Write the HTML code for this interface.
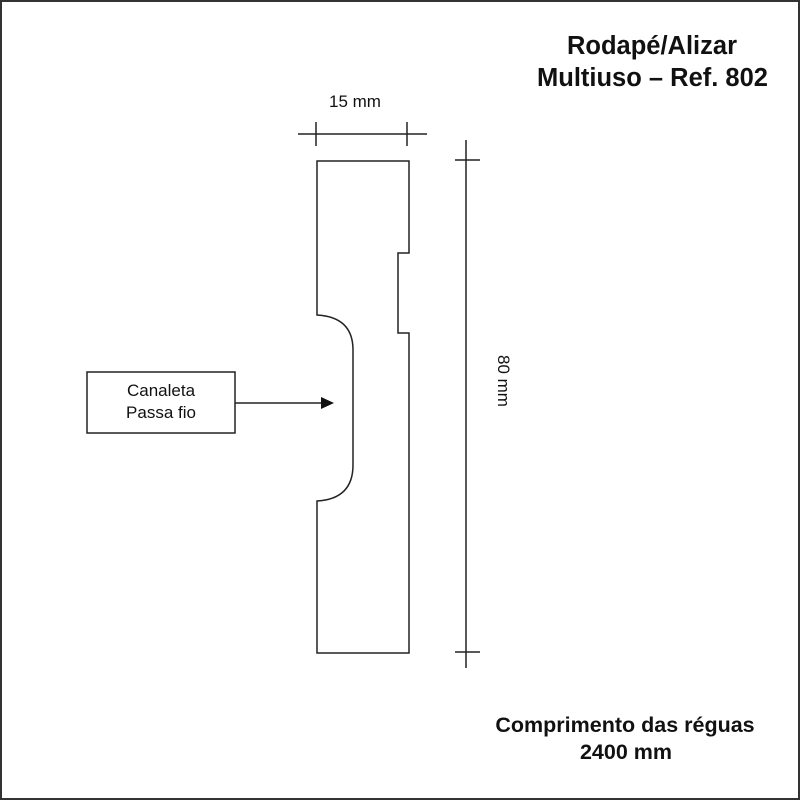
<!DOCTYPE html>
<html><head><meta charset="utf-8"><style>
html,body{margin:0;padding:0;background:#fff}
body{width:800px;height:800px;position:relative;overflow:hidden}
.frame{position:absolute;left:0;top:0;width:796px;height:796px;border:2px solid #333}
.t{position:absolute;font-family:"Liberation Sans",sans-serif;color:#111;white-space:nowrap}
.b{font-weight:bold}
</style></head><body>
<div class="frame"></div>
<svg width="800" height="800" style="position:absolute;left:0;top:0">
<g fill="none" stroke="#222" stroke-width="1.5">
<path d="M317 161 H409 V253 H398 V333 H409 V653 H317 V501 Q353 499 353 465 V350 Q353 317 317 315 Z"/>
<line x1="298" y1="134" x2="427" y2="134"/>
<line x1="316" y1="122" x2="316" y2="146"/>
<line x1="407" y1="122" x2="407" y2="146"/>
<line x1="466" y1="140" x2="466" y2="668"/>
<line x1="455" y1="160" x2="480" y2="160"/>
<line x1="455" y1="652" x2="480" y2="652"/>
<rect x="87" y="372" width="148" height="61"/>
<line x1="235" y1="403" x2="322" y2="403"/>
</g>
<polygon points="321,397 334,403 321,409" fill="#111"/>
</svg>
<div class="t b" style="left:552px;top:32px;width:200px;text-align:center;font-size:25.5px">Rodapé/Alizar</div>
<div class="t b" style="left:520px;top:64px;width:265px;text-align:center;font-size:25.5px">Multiuso – Ref. 802</div>
<div class="t" style="left:300px;top:92px;width:110px;text-align:center;font-size:17px">15 mm</div>
<div class="t" style="left:87px;top:380px;width:148px;text-align:center;font-size:17px;line-height:22px">Canaleta<br>Passa fio</div>
<div class="t" style="left:478px;top:370px;width:50px;text-align:center;font-size:17px;transform:rotate(90deg)">80 mm</div>
<div class="t b" style="left:470px;top:713px;width:310px;text-align:center;font-size:21.5px">Comprimento das réguas</div>
<div class="t b" style="left:546px;top:740px;width:160px;text-align:center;font-size:21.5px">2400 mm</div>
</body></html>
